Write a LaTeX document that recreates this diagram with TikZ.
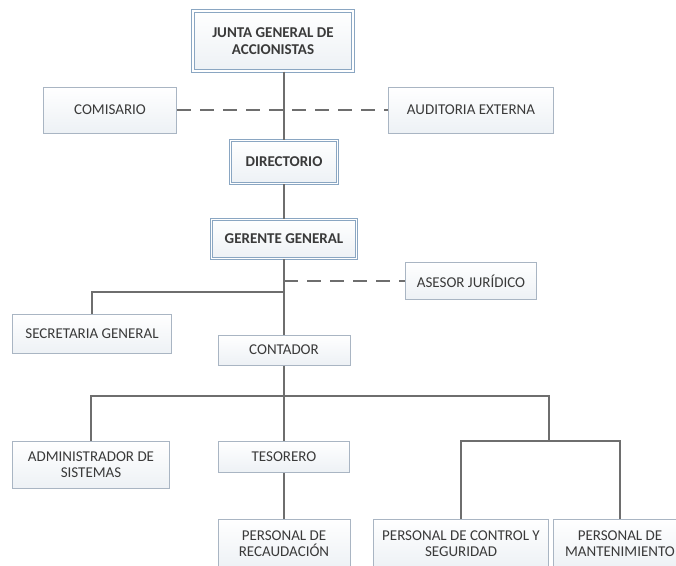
\documentclass[tikz,border=0pt]{standalone}
\usepackage{fontspec}
\setmainfont{Carlito}
\usetikzlibrary{positioning}
\definecolor{borde}{HTML}{A9B5C3}
\definecolor{bordeazul}{HTML}{8AA6C2}
\definecolor{relleno}{HTML}{EDF1F5}
\definecolor{gristrazo}{HTML}{6E6E6E}
\definecolor{texto}{HTML}{3A3A3A}

\begin{document}
\begin{tikzpicture}[x=1pt,y=-1pt,
  caja/.style={draw=borde,line width=1pt,top color=white,bottom color=relleno,
    text=texto,font=\fontsize{15}{16}\selectfont,align=center,inner sep=0pt},
  cajadoble/.style={caja,draw=bordeazul,double=white,double distance=1.6pt,
    font=\fontsize{15}{17}\selectfont\bfseries},
  linea/.style={draw=gristrazo,line width=1.3pt},
  punteada/.style={linea,dash pattern=on 14pt off 9pt}]
  \useasboundingbox (0,0) rectangle (676,565);
  \clip (0,0) rectangle (676,565);
  % cabeza
  \node[cajadoble,minimum width=160pt,minimum height=60pt] (jg) at (273,41) {JUNTA GENERAL DE\\ACCIONISTAS};
  \node[caja,minimum width=133pt,minimum height=46pt] (com) at (110,110) {COMISARIO};
  \node[caja,minimum width=165pt,minimum height=46pt] (aud) at (471,110) {AUDITORIA EXTERNA};
  \node[cajadoble,minimum width=107pt,minimum height=43pt] (dir) at (284,162) {DIRECTORIO};
  \node[cajadoble,minimum width=145pt,minimum height=39pt] (gg) at (284,239) {GERENTE GENERAL};
  \node[caja,minimum width=131pt,minimum height=37pt] (ase) at (471,281) {ASESOR JURÍDICO};
  % mandos medios
  \node[caja,minimum width=159pt,minimum height=39pt] (sec) at (92,334) {SECRETARIA GENERAL};
  \node[caja,minimum width=132pt,minimum height=30pt] (con) at (284,350) {CONTADOR};
  \node[caja,minimum width=157pt,minimum height=47pt] (adm) at (91,465) {ADMINISTRADOR DE\\SISTEMAS};
  \node[caja,minimum width=131pt,minimum height=31pt] (tes) at (284,457) {TESORERO};
  % personal
  \node[caja,minimum width=132pt,minimum height=50pt] (rec) at (284,544) {PERSONAL DE\\RECAUDACIÓN};
  \node[caja,minimum width=175pt,minimum height=50pt] (pcs) at (461,544) {PERSONAL DE CONTROL Y\\SEGURIDAD};
  \node[caja,minimum width=134pt,minimum height=50pt] (pm) at (620,544) {PERSONAL DE\\MANTENIMIENTO};
  \coordinate (r1) at (284,292);
  \coordinate (r2) at (284,396);
  \coordinate (r3) at (549,441);
  \draw[linea] (dir.north |- jg.south) -- (dir.north);
  \draw[punteada] (com) -- (aud);
  \draw[linea] (dir) -- (gg);
  \draw[linea] (gg) -- (con);
  \draw[punteada] (gg.south |- ase.west) -- (ase);
  \draw[linea] (r1) -| (sec);
  \draw[linea] (con) -- (tes);
  \draw[linea] (r2) -| (adm);
  \draw[linea] (r2) -| (r3);
  \draw[linea] (r3) -| (pcs);
  \draw[linea] (r3) -| (pm);
  \draw[linea] (tes) -- (rec);
\end{tikzpicture}
\end{document}
